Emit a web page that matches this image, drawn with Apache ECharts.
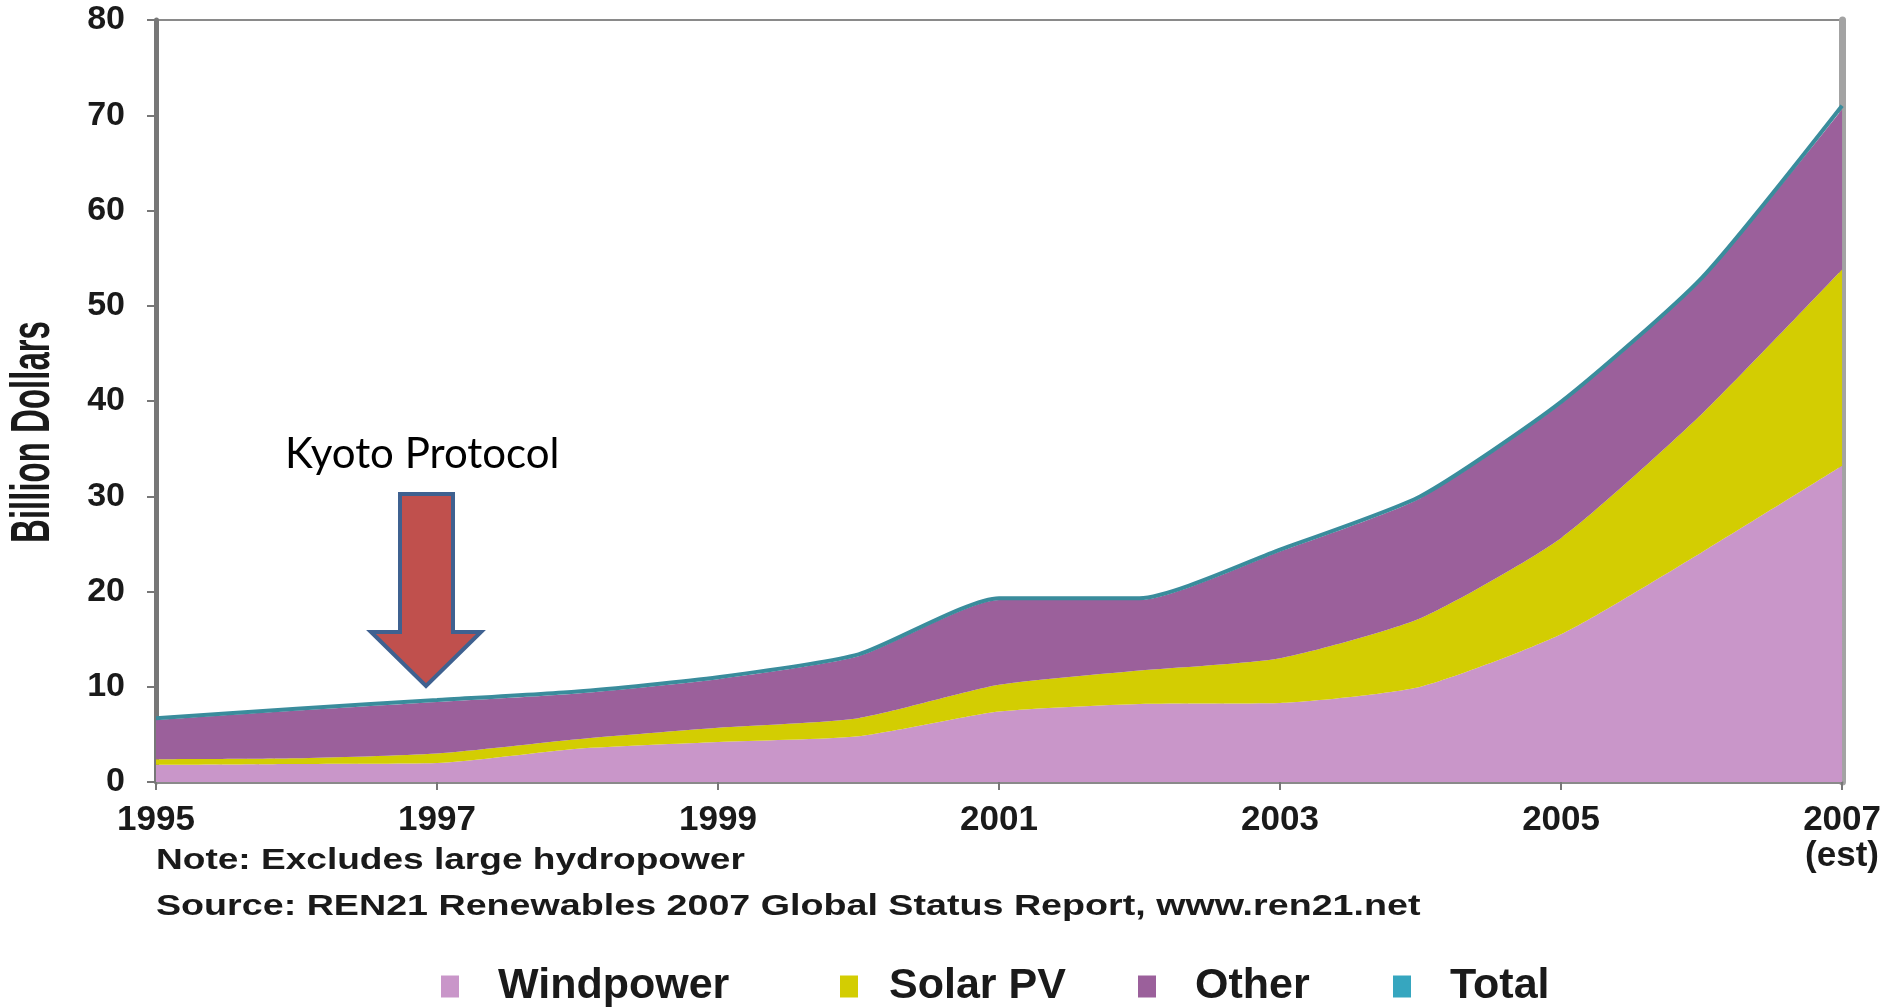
<!DOCTYPE html>
<html>
<head>
<meta charset="utf-8">
<script src="https://cdn.jsdelivr.net/npm/echarts@6/dist/echarts.min.js"></script>
<style>
    html, body { margin: 0; padding: 0; background: #fff; }
    #chart { width: 1884px; height: 1008px; }
</style>
</head>
<body>
<div id="chart"></div>
<script>
// values, billion dollars
const years = ['1995', '1996', '1997', '1998', '1999', '2000', '2001', '2002', '2003', '2004', '2005', '2006', '2007\n(est)'];
const windpower = [1.8, 1.9, 2.0, 3.5, 4.2, 4.8, 7.4, 8.2, 8.3, 10.0, 15.5, 24.1, 33.2];
const solarPV = [0.6, 0.6, 1.0, 1.0, 1.5, 1.9, 2.8, 3.5, 4.7, 7.2, 10.1, 14.5, 20.6];
const other = [4.1, 5.0, 5.4, 4.8, 5.1, 6.5, 8.9, 7.4, 11.2, 12.6, 14.1, 14.1, 16.8];
const total = [6.7, 7.7, 8.6, 9.5, 11.0, 13.4, 19.3, 19.3, 24.4, 30.0, 39.9, 52.9, 71.0];
const legendNames = ['Windpower', 'Solar PV', 'Other', 'Total'];
const legendLeft = [436, 835, 1133, 1388];

const boldFont = "'Liberation Sans', Arial, sans-serif";

let myChart = echarts.init(document.getElementById('chart'));

function area(name, data, color) {
    return {
        name: name,
        type: 'line',
        stack: 'all',
        data: data,
        symbol: 'none',
        smooth: 0.2,
        color: color,
        lineStyle: { width: 0 },
        areaStyle: { color: color, opacity: 1 }
    };
}

let options = {
    backgroundColor: '#fff',
    animation: false,
    grid: {
        left: 156,
        right: 34,
        top: 20,
        bottom: 226,
        show: true,
        borderColor: '#8a8a8a',
        borderWidth: 2
    },
    legend: legendNames.map(function (name, i) {
        return {
            left: legendLeft[i],
            top: 960,
            icon: 'rect',
            itemWidth: 18,
            itemHeight: 22,
            textStyle: {
                fontFamily: boldFont,
                fontWeight: 'bold',
                fontSize: 43,
                color: '#1a1a1a',
                padding: [0, 0, 0, i === 1 ? 26 : 34]
            },
            data: [name]
        };
    }),
    xAxis: {
        type: 'category',
        boundaryGap: false,
        data: years,
        axisLine: { lineStyle: { color: '#8a8a8a', width: 3 } },
        axisTick: { interval: 1, length: 8, lineStyle: { color: '#777', width: 2 } },
        axisLabel: {
            interval: 1,
            margin: 20,
            fontFamily: boldFont,
            fontWeight: 'bold',
            fontSize: 35,
            lineHeight: 36,
            color: '#1a1a1a'
        }
    },
    yAxis: [
        {
            type: 'value',
            min: 0,
            max: 80,
            interval: 10,
            splitLine: { show: false },
            axisLine: { show: true, lineStyle: { color: '#777', width: 5 } },
            axisTick: { show: true, length: 9, lineStyle: { color: '#777', width: 2 } },
            axisLabel: {
                margin: 31,
                fontFamily: boldFont,
                fontWeight: 'bold',
                fontSize: 34,
                color: '#1a1a1a'
            }
        },
        {
            type: 'value',
            position: 'right',
            min: 0,
            max: 80,
            interval: 10,
            splitLine: { show: false },
            axisLine: { show: true, lineStyle: { color: '#a3a3a3', width: 7 } },
            axisTick: { show: false },
            axisLabel: { show: false }
        }
    ],
    graphic: [
        {
            type: 'text',
            x: 34,
            y: 432,
            rotation: Math.PI / 2,
            scaleY: 1.7,
            style: {
                text: 'Billion Dollars',
                font: "bold 33px 'Liberation Sans', Arial, sans-serif",
                fill: '#1a1a1a',
                align: 'center',
                verticalAlign: 'middle'
            }
        },
        {
            type: 'text',
            x: 156,
            y: 861,
            scaleX: 1.235,
            style: {
                text: 'Note: Excludes large hydropower',
                font: "bold 30px 'Liberation Sans', Arial, sans-serif",
                fill: '#1a1a1a',
                verticalAlign: 'middle'
            }
        },
        {
            type: 'text',
            x: 156,
            y: 907,
            scaleX: 1.255,
            style: {
                text: 'Source: REN21 Renewables 2007 Global Status Report, www.ren21.net',
                font: "bold 30px 'Liberation Sans', Arial, sans-serif",
                fill: '#1a1a1a',
                verticalAlign: 'middle'
            }
        },
        {
            type: 'text',
            left: 285,
            top: 433,
            style: {
                text: 'Kyoto Protocol',
                font: "42px Lato, 'Open Sans', sans-serif",
                fill: '#000'
            }
        },
        {
            type: 'polygon',
            shape: {
                points: [[400, 494], [453, 494], [453, 632], [481, 632], [426, 686], [371, 632], [400, 632]]
            },
            style: { fill: '#c0504d', stroke: '#3f6190', lineWidth: 4 },
            z: 100
        }
    ],
    series: [
        area('Windpower', windpower, '#c996c9'),
        area('Solar PV', solarPV, '#d3cd02'),
        area('Other', other, '#9b609b'),
        {
            name: 'Total',
            type: 'line',
            data: total,
            symbol: 'none',
            smooth: 0.2,
            color: '#36a6bf',
            lineStyle: { color: '#3a8c9c', width: 4 },
            z: 5
        }
    ]
};
myChart.setOption(options);
</script>
</body>
</html>
